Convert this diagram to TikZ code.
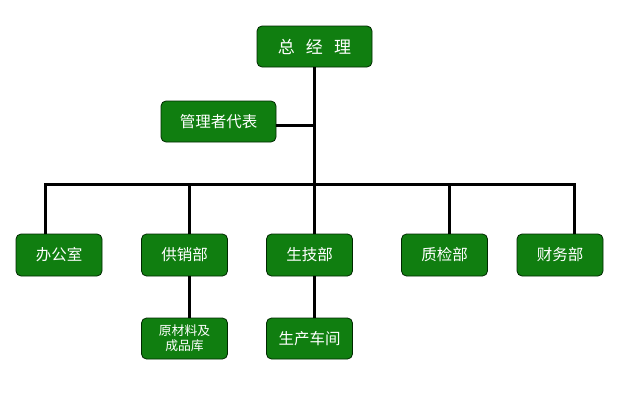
\documentclass[tikz,border=0pt]{standalone}
\usepackage{fontspec}
\setmainfont{Noto Sans CJK SC}
\begin{document}
\begin{tikzpicture}[x=1pt,y=-1pt,
  box/.style={draw=black!60!green!40!black, line width=0.8pt, fill=boxgreen, rounded corners=5pt,
    text=white, font=\fontsize{15.5}{18}\selectfont, inner sep=0pt, anchor=center},
  conn/.style={line width=3pt, black}]
\definecolor{boxgreen}{RGB}{16,126,16}
\useasboundingbox (0,0) rectangle (625,415);
\node[box, minimum width=115pt, minimum height=41pt, font=\fontsize{17}{20}\selectfont] (gm) at (314.5,46.5) {总\hspace{0.65em}经\hspace{0.65em}理};
\node[box, minimum width=115pt, minimum height=41pt] (rep) at (218.5,121.5) {管理者代表};
\coordinate (repj) at (276,125);
\coordinate (bar) at (314,184);
\coordinate (bl) at (45,184);
\coordinate (br) at (574,184);
\node[box, minimum width=86pt, minimum height=42pt] (b1) at (59,255) {办公室};
\node[box, minimum width=86pt, minimum height=42pt] (b2) at (184.5,255) {供销部};
\node[box, minimum width=86pt, minimum height=42pt] (b3) at (309.5,255) {生技部};
\node[box, minimum width=86pt, minimum height=42pt] (b4) at (444.5,255) {质检部};
\node[box, minimum width=86pt, minimum height=42pt] (b5) at (560,255) {财务部};
\node[box, minimum width=86pt, minimum height=41pt, font=\fontsize{12.8}{15}\selectfont, align=center] (c1) at (184.5,338.5) {原材料及\\成品库};
\node[box, minimum width=86pt, minimum height=41pt] (c2) at (309.5,338.5) {生产车间};
\draw[conn] (gm.south -| bar) -- (bar);
\draw[conn] (repj) -- (repj -| bar);
\draw[conn, line cap=rect] (bl) -- (br);
\draw[conn] (bl) -- (bl |- b1.north);
\draw[conn] (189,184) -- (189,0 |- b2.north);
\draw[conn] (bar) -- (bar |- b3.north);
\draw[conn] (449,184) -- (449,0 |- b4.north);
\draw[conn] (br) -- (br |- b5.north);
\draw[conn] (189,0 |- b2.south) -- (189,0 |- c1.north);
\draw[conn] (314,0 |- b3.south) -- (314,0 |- c2.north);
\end{tikzpicture}
\end{document}
